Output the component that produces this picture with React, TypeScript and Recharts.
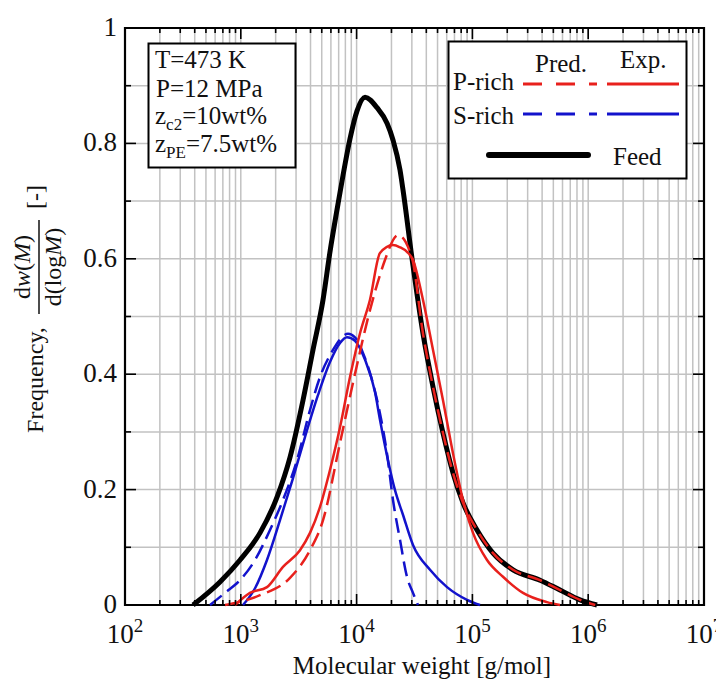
import React from 'react';
import { LineChart, Line, XAxis, YAxis, CartesianGrid, ReferenceArea } from 'recharts';

// ---- data (molecular weight M [g/mol], frequency dw/dlogM) ----
const feedM = [387, 661, 985, 1465, 2055, 2660, 3445, 4200, 5130, 5890, 6910, 7640, 8770, 10070, 11830, 15000, 18320, 20620, 23700, 25180, 30080, 37410, 45700, 55720, 67950, 82980, 109600, 150700, 224300, 383700, 570500, 849500, 1191000];
const feedW = [0, 0.040, 0.078, 0.125, 0.187, 0.256, 0.355, 0.442, 0.529, 0.612, 0.695, 0.745, 0.808, 0.856, 0.880, 0.862, 0.835, 0.806, 0.754, 0.719, 0.601, 0.471, 0.378, 0.298, 0.229, 0.177, 0.130, 0.090, 0.061, 0.043, 0.026, 0.009, 0];

const pExpM = [891, 1200, 1683, 2313, 3245, 3960, 4830, 5890, 7190, 8770, 10700, 13050, 15920, 20620, 23700, 27230, 30690, 37410, 45700, 55720, 67950, 82980, 101200, 133700, 183700, 273400, 440700, 570500];
const pExpW = [0, 0.021, 0.031, 0.066, 0.095, 0.125, 0.170, 0.234, 0.308, 0.395, 0.471, 0.529, 0.610, 0.624, 0.620, 0.612, 0.598, 0.529, 0.442, 0.355, 0.263, 0.182, 0.125, 0.078, 0.049, 0.021, 0.005, 0];

const pPredM = [731, 1465, 2660, 3960, 5130, 7190, 9310, 13050, 15920, 17580, 22790, 30080, 37410, 45700, 55720, 67950, 82980, 109600, 150700, 224300, 383700, 570500, 849500, 1150000];
const pPredW = [0, 0.017, 0.047, 0.095, 0.147, 0.281, 0.385, 0.511, 0.572, 0.598, 0.641, 0.601, 0.471, 0.378, 0.298, 0.229, 0.177, 0.130, 0.090, 0.061, 0.043, 0.026, 0.009, 0];

const sExpM = [1045, 1327, 1683, 2180, 2825, 3583, 4645, 5890, 7190, 8260, 9680, 11830, 14420, 15920, 18660, 21460, 25180, 30690, 43050, 60390, 89790, 116400];
const sExpW = [0, 0.029, 0.078, 0.147, 0.220, 0.291, 0.364, 0.421, 0.454, 0.464, 0.458, 0.425, 0.369, 0.321, 0.251, 0.199, 0.156, 0.104, 0.061, 0.031, 0.009, 0];

const sPredM = [542, 731, 985, 1327, 1787, 2313, 3055, 3960, 4830, 6250, 7480, 8430, 9680, 11350, 13580, 15920, 18320, 20620, 23700, 27230, 30690, 33890];
const sPredW = [0, 0.021, 0.043, 0.078, 0.130, 0.182, 0.251, 0.338, 0.395, 0.442, 0.464, 0.470, 0.464, 0.437, 0.390, 0.332, 0.262, 0.182, 0.113, 0.049, 0.021, 0];

const xTicks: number[] = [];
for (let d = 2; d < 7; d++) for (let k = 1; k <= 9; k++) xTicks.push(k * Math.pow(10, d));
xTicks.push(10000000);
const yTicks = [0, 0.1, 0.2, 0.3, 0.4, 0.5, 0.6, 0.7, 0.8, 0.9, 1];
const yTickLabels: Record<string, string> = { '0': '0', '0.2': '0.2', '0.4': '0.4', '0.6': '0.6', '0.8': '0.8', '1': '1' };

const zip = (m: number[], w: number[]) => m.map((v, i) => ({ m: v, w: w[i] }));
const feedData = zip(feedM, feedW);
const pExpData = zip(pExpM, pExpW);
const pPredData = zip(pPredM, pPredW);
const sExpData = zip(sExpM, sExpW);
const sPredData = zip(sPredM, sPredW);

// ---- layout ----
const W = 716;
const H = 672;
const PLOT_H = 577;
const PLOT_W = 579;
const FONT = "'Liberation Serif', 'Times New Roman', serif";
const RED = '#e8201c';
const BLUE = '#1212cc';

const XTick = (props: any) => {
  const { x, y, payload } = props;
  const v = payload.value;
  const e = Math.round(Math.log10(v));
  const major = Math.abs(v - Math.pow(10, e)) < 1e-6 * v;
  const len = major ? 11 : 5;
  return (
    <g>
      <line x1={x} x2={x} y1={y} y2={y - len} stroke="#000" strokeWidth={1.6} />
      <line x1={x} x2={x} y1={y - PLOT_H} y2={y - PLOT_H + len} stroke="#000" strokeWidth={1.6} />
      {major && (
        <text x={x} y={y + 38} textAnchor="middle" fontFamily={FONT} fontSize={27} fill="#111">
          10<tspan dy={-11} fontSize={19}>{e}</tspan>
        </text>
      )}
    </g>
  );
};

const YTick = (props: any) => {
  const { x, y, payload } = props;
  const v = payload.value;
  const key = String(Math.round(v * 10) / 10);
  const label = yTickLabels[key];
  const len = label !== undefined ? 11 : 6;
  return (
    <g>
      <line x1={x} x2={x + len} y1={y} y2={y} stroke="#000" strokeWidth={1.6} />
      <line x1={x + PLOT_W} x2={x + PLOT_W - len} y1={y} y2={y} stroke="#000" strokeWidth={1.6} />
      {label !== undefined && (
        <text x={x - 8} y={y + 8} textAnchor="end" fontFamily={FONT} fontSize={27} fill="#111">
          {label}
        </text>
      )}
    </g>
  );
};

const Overlay = () => (
  <svg width={W} height={H} style={{ position: 'absolute', left: 0, top: 0, pointerEvents: 'none' }}>
    {/* y-axis label */}
    <g fontFamily={FONT} fontSize={24} fill="#111">
      <text transform="translate(35,372) rotate(-90)" textAnchor="middle">Frequency,</text>
      <text transform="translate(22,259) rotate(-90)" textAnchor="middle">
        d<tspan fontStyle="italic">w</tspan>(<tspan fontStyle="italic">M</tspan>)
      </text>
      <line x1={31} x2={31} y1={212} y2={306} stroke="#111" strokeWidth={1.5} />
      <text transform="translate(53,259) rotate(-90)" textAnchor="middle">
        d(log<tspan fontStyle="italic">M</tspan>)
      </text>
      <text transform="translate(35,189) rotate(-90)" textAnchor="middle">[-]</text>
    </g>
    {/* x-axis label */}
    <text x={414} y={666} textAnchor="middle" fontFamily={FONT} fontSize={25} fill="#111">
      Molecular weight [g/mol]
    </text>
    {/* conditions box */}
    <g fontFamily={FONT} fontSize={25} fill="#111">
      <rect x={140.5} y={35.5} width={147} height={124} fill="#fff" stroke="#000" strokeWidth={2} />
      <text x={147} y={60}>T=473 K</text>
      <text x={148} y={89}>P=12 MPa</text>
      <text x={147} y={116}>
        z<tspan dy={6} fontSize={17}>c2</tspan><tspan dy={-6}>=10wt%</tspan>
      </text>
      <text x={147} y={144}>
        z<tspan dy={6} fontSize={17}>PE</tspan><tspan dy={-6}>=7.5wt%</tspan>
      </text>
    </g>
    {/* legend */}
    <g fontFamily={FONT} fontSize={25} fill="#111">
      <rect x={440.5} y={33.5} width={238} height={137} fill="#fff" stroke="#000" strokeWidth={2} />
      <text x={527} y={64}>Pred.</text>
      <text x={612} y={60}>Exp.</text>
      <text x={445} y={82}>P-rich</text>
      <line x1={515} x2={589} y1={76} y2={76} stroke={RED} strokeWidth={3} strokeDasharray="19 14" />
      <line x1={599} x2={671} y1={76} y2={76} stroke={RED} strokeWidth={3} />
      <text x={445} y={116}>S-rich</text>
      <line x1={515} x2={589} y1={106} y2={106} stroke={BLUE} strokeWidth={3} strokeDasharray="19 14" />
      <line x1={599} x2={671} y1={106} y2={106} stroke={BLUE} strokeWidth={3} />
      <line x1={481} x2={580} y1={147} y2={147} stroke="#000" strokeWidth={6} strokeLinecap="round" />
      <text x={605} y={157}>Feed</text>
    </g>
  </svg>
);

export default function App() {
  return (
    <div style={{ position: 'relative', width: W, height: H }}>
      <LineChart width={W} height={H} margin={{ top: 20, right: 20, bottom: 15, left: 57 }}>
        <CartesianGrid stroke="#c2c2c2" strokeWidth={1.5} syncWithTicks />
        <XAxis
          dataKey="m"
          type="number"
          scale="log"
          domain={[100, 10000000]}
          allowDataOverflow
          ticks={xTicks}
          interval={0}
          tick={<XTick />}
          tickLine={false}
          axisLine={false}
          tickSize={0}
          tickMargin={0}
          height={60}
        />
        <YAxis
          type="number"
          domain={[0, 1]}
          ticks={yTicks}
          interval={0}
          tick={<YTick />}
          tickLine={false}
          axisLine={false}
          tickSize={0}
          tickMargin={0}
          width={60}
        />
        <ReferenceArea x1={100} x2={10000000} y1={0} y2={1} fill="none" stroke="#000" strokeWidth={2.2} />
        <Line data={feedData} dataKey="w" type="monotone" stroke="#000" strokeWidth={5} dot={false} isAnimationActive={false} />
        <Line data={sExpData} dataKey="w" type="monotone" stroke={BLUE} strokeWidth={2.5} dot={false} isAnimationActive={false} />
        <Line data={sPredData} dataKey="w" type="monotone" stroke={BLUE} strokeWidth={2.5} strokeDasharray="15 7" dot={false} isAnimationActive={false} />
        <Line data={pExpData} dataKey="w" type="monotone" stroke={RED} strokeWidth={2.5} dot={false} isAnimationActive={false} />
        <Line data={pPredData} dataKey="w" type="monotone" stroke={RED} strokeWidth={2.5} strokeDasharray="15 7" dot={false} isAnimationActive={false} />
      </LineChart>
      <Overlay />
    </div>
  );
}
